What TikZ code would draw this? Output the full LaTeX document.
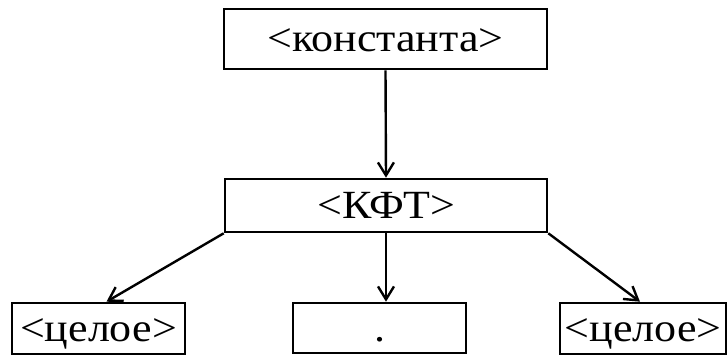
\documentclass[tikz,border=0pt]{standalone}
\usepackage{fontspec}
\setmainfont{Liberation Serif}[FakeStretch=1.1]
\usetikzlibrary{arrows.meta}
\tikzset{
	box/.style={draw, line width=2.6pt, inner sep=0pt, text height=26pt, text depth=0pt, font=\fontsize{40}{44}\selectfont},
	arr/.style={line width=2.4pt, -{Straight Barb[length=13pt, width=16pt, line width=2.4pt]}}
}

\begin{document}
\begin{tikzpicture}[x=1pt, y=1pt]
			%%%%% START %%%%%
			
			\useasboundingbox (0, 0) rectangle (728, 356);
			
			\node[box, minimum width=323pt, minimum height=60pt] (konst) at (385.5, 317) {<константа>};
			\node[box, minimum width=322pt, minimum height=53pt] (kft) at (386, 150.5) {<КФТ>};
			
			\node[box, minimum width=173pt, minimum height=51pt] (left) at (98.5, 27.5) {<целое>};
			\node[box, minimum width=173pt, minimum height=50pt] (dot) at (379.5, 28) {.};
			\node[box, minimum width=166pt, minimum height=51pt] (right) at (643, 27.5) {<целое>};
			
			\draw[arr] (konst.south) -- (kft.north);
			\draw[arr] (kft.south west) -- ([xshift=8pt]left.north);
			\draw[arr] (kft.south) -- (kft.south |- dot.north);
			\draw[arr] (kft.south east) -- ([xshift=-3pt]right.north);
			
			%%%%% END %%%%%
\end{tikzpicture}
\end{document}
